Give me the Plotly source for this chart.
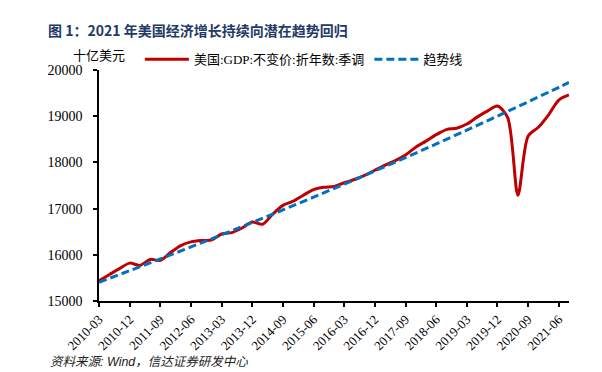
import plotly.graph_objects as go

quarters = [
    "2010-03", "2010-06", "2010-09", "2010-12",
    "2011-03", "2011-06", "2011-09", "2011-12",
    "2012-03", "2012-06", "2012-09", "2012-12",
    "2013-03", "2013-06", "2013-09", "2013-12",
    "2014-03", "2014-06", "2014-09", "2014-12",
    "2015-03", "2015-06", "2015-09", "2015-12",
    "2016-03", "2016-06", "2016-09", "2016-12",
    "2017-03", "2017-06", "2017-09", "2017-12",
    "2018-03", "2018-06", "2018-09", "2018-12",
    "2019-03", "2019-06", "2019-09", "2019-12",
    "2020-03", "2020-06", "2020-09", "2020-12",
    "2021-03", "2021-06", "2021-09",
]

gdp = [
    15440, 15570, 15700, 15820,
    15770, 15900, 15880, 16050,
    16200, 16280, 16310, 16320,
    16450, 16480, 16580, 16710,
    16660, 16880, 17070, 17160,
    17290, 17410, 17460, 17480,
    17560, 17630, 17720, 17830,
    17940, 18040, 18160, 18330,
    18460, 18600, 18710, 18740,
    18830, 18980, 19110, 19220,
    18970, 17290, 18570, 18760,
    19030, 19350, 19460,
]

trend_quarters = ["2010-03", "2010-12", "2011-09", "2012-06", "2013-03", "2013-12",
                  "2014-09", "2015-06", "2016-03", "2016-12", "2017-09", "2018-06",
                  "2019-03", "2019-12", "2020-09", "2021-06", "2021-09"]
trend = [15405, 15656, 15911, 16170, 16433, 16700, 16972, 17248, 17529,
         17814, 18104, 18399, 18698, 19002, 19311, 19625, 19731]

tick_labels = quarters[::3]

SERIF = "Liberation Serif, Times New Roman, Noto Sans CJK SC, serif"

fig = go.Figure()
fig.add_trace(go.Scatter(
    x=quarters, y=gdp, mode="lines", name="美国:GDP:不变价:折年数:季调",
    line=dict(color="#C00000", width=3, shape="spline", smoothing=0.8),
))
fig.add_trace(go.Scatter(
    x=trend_quarters, y=trend, mode="lines", name="趋势线",
    line=dict(color="#0070C0", width=3, dash="8px,4px", shape="spline"),
))

fig.update_layout(
    width=602, height=372,
    margin=dict(l=91, r=41, t=62, b=79),
    paper_bgcolor="white", plot_bgcolor="white",
    title=dict(
        text="<b>图 1：2021 年美国经济增长持续向潜在趋势回归</b>",
        x=40 / 602, xanchor="left", xref="container",
        y=1 - 23 / 372, yanchor="middle", yref="container",
        font=dict(family="Noto Sans CJK SC", size=14, color="#243A66"),
    ),
    legend=dict(
        orientation="h", x=0.087, xanchor="left", y=1.046, yanchor="middle",
        font=dict(family=SERIF, size=13, color="black"),
        bgcolor="rgba(0,0,0,0)", itemwidth=44, tracegroupgap=0,
    ),
    showlegend=True,
)

fig.update_xaxes(
    type="category", categoryorder="array", categoryarray=quarters,
    range=[0, 46],
    tickmode="array", tickvals=tick_labels, ticktext=tick_labels,
    tickangle=-45, ticks="outside", ticklen=4, tickwidth=1.5, tickcolor="black",
    showline=True, linecolor="black", linewidth=1.5,
    showgrid=False, zeroline=False,
    tickfont=dict(family=SERIF, size=13, color="black"),
)
fig.update_yaxes(
    range=[15000, 20000], dtick=1000, tick0=15000, tickformat="d",
    ticks="outside", ticklen=4, tickwidth=1.5, tickcolor="black",
    showline=True, linecolor="black", linewidth=1.5,
    showgrid=False, zeroline=False,
    tickfont=dict(family=SERIF, size=14, color="black"),
    ticklabelstandoff=8,
)

fig.add_annotation(
    text="十亿美元", xref="paper", yref="paper", x=0.0, y=1.061,
    xanchor="center", yanchor="middle", showarrow=False,
    font=dict(family=SERIF, size=13, color="black"),
)
fig.add_annotation(
    text="资料来源: Wind，信达证券研发中心", xref="paper", yref="paper",
    x=-0.1085, y=-0.262, xanchor="left", yanchor="middle", showarrow=False,
    font=dict(family="Liberation Sans, Noto Sans CJK SC", size=12.5, color="#222222", style="italic"),
)

fig.write_html("out.html")
